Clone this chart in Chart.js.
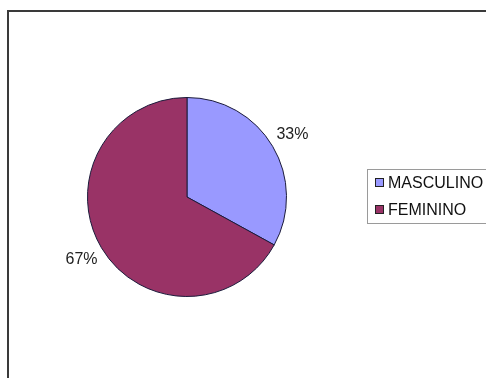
<!DOCTYPE html>
<html>
<head>
<meta charset="utf-8">
<script src="https://cdn.jsdelivr.net/npm/chart.js@4"></script>
<style>
  html, body { margin: 0; padding: 0; background: #fff; }
  #wrap { width: 486px; height: 378px; position: relative; }
</style>
</head>
<body>
<div id="wrap"><canvas id="pie-chart"></canvas></div>
<script>
const categories = ['MASCULINO', 'FEMININO'];
const percentages = [33, 67];
const sliceColors = ['#9999ff', '#993366'];

// frame round the plot, like the spreadsheet chart area
const framePlugin = {
    id: 'frame',
    beforeDraw(chart) {
        const ctx = chart.ctx;
        ctx.save();
        ctx.fillStyle = '#ffffff';
        ctx.fillRect(0, 0, chart.width, chart.height);
        ctx.strokeStyle = '#3a3a3a';
        ctx.lineWidth = 2;
        ctx.beginPath();
        ctx.moveTo(8, chart.height);
        ctx.lineTo(8, 11);
        ctx.lineTo(chart.width, 11);
        ctx.stroke();
        ctx.restore();
    }
};

// percent labels just outside each slice
const outsideLabels = {
    id: 'outsideLabels',
    afterDatasetsDraw(chart) {
        const ctx = chart.ctx;
        const meta = chart.getDatasetMeta(0);
        ctx.save();
        ctx.font = '16px "Liberation Sans", Arial, sans-serif';
        ctx.fillStyle = '#222';
        ctx.textAlign = 'center';
        ctx.textBaseline = 'middle';
        meta.data.forEach((arc, i) => {
            const p = arc.getProps(['x', 'y', 'startAngle', 'endAngle', 'outerRadius'], true);
            const mid = (p.startAngle + p.endAngle) / 2;
            const r = p.outerRadius + 23;
            ctx.fillText(percentages[i] + '%', p.x + Math.cos(mid) * r, p.y + Math.sin(mid) * r);
        });
        ctx.restore();
    }
};

// boxed legend on the right
const boxLegend = {
    id: 'boxLegend',
    afterDraw(chart) {
        const ctx = chart.ctx;
        ctx.save();
        ctx.strokeStyle = '#9a9a9a';
        ctx.lineWidth = 1;
        ctx.strokeRect(367.5, 169.5, 140, 54);
        ctx.font = '16px "Liberation Sans", Arial, sans-serif';
        ctx.textBaseline = 'middle';
        ctx.textAlign = 'left';
        categories.forEach((name, i) => {
            const y = 183 + i * 27;
            ctx.fillStyle = sliceColors[i];
            ctx.fillRect(375.5, y - 4.5, 8, 8);
            ctx.strokeStyle = '#222';
            ctx.strokeRect(375.5, y - 4.5, 8, 8);
            ctx.fillStyle = '#111';
            ctx.fillText(name, 388, y + 1);
        });
        ctx.restore();
    }
};

new Chart(document.querySelector('#pie-chart').getContext('2d'), {
    type: 'pie',
    data: {
        labels: categories,
        datasets: [{
            data: percentages,
            backgroundColor: sliceColors,
            borderColor: '#1c1c3c',
            borderWidth: 1
        }]
    },
    options: {
        responsive: true,
        maintainAspectRatio: false,
        animation: false,
        layout: { padding: { left: 87, right: 199, top: 97, bottom: 81 } },
        plugins: {
            legend: { display: false },
            tooltip: { enabled: false }
        }
    },
    plugins: [framePlugin, outsideLabels, boxLegend]
});
</script>
</body>
</html>
